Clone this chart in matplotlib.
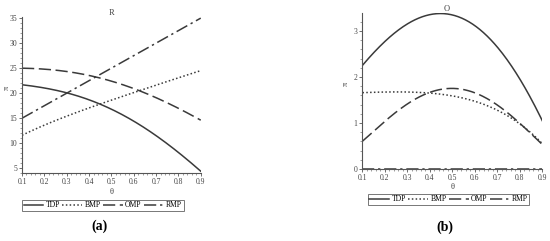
import matplotlib
matplotlib.use('Agg')
import matplotlib.pyplot as plt
import numpy as np
from matplotlib.ticker import MultipleLocator

plt.rcParams['font.family'] = ['Liberation Serif', 'DejaVu Serif']

# Data
theta = [0.1, 0.2, 0.3, 0.4, 0.5, 0.6, 0.7, 0.8, 0.9]

# panel (a): R
r_tdp = [21.7, 21.0, 20.1, 18.7, 16.8, 14.4, 11.5, 8.2, 4.4]
r_bmp = [11.6, 13.6, 15.4, 17.1, 18.6, 20.1, 21.6, 23.1, 24.5]
r_omp = [25.0, 24.8, 24.3, 23.6, 22.4, 20.9, 19.1, 17.0, 14.6]
r_rmp = [15.0, 17.5, 20.0, 22.5, 25.0, 27.5, 30.0, 32.5, 35.0]

# panel (b): O
o_tdp = [2.25, 2.78, 3.15, 3.35, 3.35, 3.12, 2.65, 1.95, 1.05]
o_bmp = [1.66, 1.67, 1.67, 1.66, 1.58, 1.47, 1.28, 0.98, 0.55]
o_omp = [0.60, 1.05, 1.40, 1.66, 1.77, 1.65, 1.38, 1.00, 0.53]
o_rmp = [0, 0, 0, 0, 0, 0, 0, 0, 0]

names = ['TDP', 'BMP', 'OMP', 'RMP']
styles = ['-', (0, (1, 1.5)), (0, (8, 3)), (0, (8, 2.5, 1.5, 2.5))]
col = '#3a3a3a'

# smooth curve through the read points
def smooth(y):
    xs = np.linspace(theta[0], theta[-1], 200)
    c = np.polyfit(theta, y, 4)
    return xs, np.polyval(c, xs)

fig = plt.figure(figsize=(5.5, 2.41), dpi=100)
ax1 = fig.add_axes([0.040, 0.281, 0.325, 0.648])
ax2 = fig.add_axes([0.659, 0.299, 0.327, 0.645])

def draw(ax, series, title, ylim, ystep, ylab_x, leg_anchor):
    lines = []
    for y, ls, nm in zip(series, styles, names):
        xs, ys = smooth(y)
        ln, = ax.plot(xs, ys, color=col, linestyle=ls, linewidth=1.1, label=nm)
        lines.append(ln)
    ax.set_xlim(0.1, 0.9)
    ax.set_ylim(*ylim)
    ax.xaxis.set_major_locator(MultipleLocator(0.1))
    ax.xaxis.set_minor_locator(MultipleLocator(0.02))
    ax.yaxis.set_major_locator(MultipleLocator(ystep))
    ax.yaxis.set_minor_locator(MultipleLocator(ystep / 5))
    ax.spines['top'].set_visible(False)
    ax.spines['right'].set_visible(False)
    for s in ['left', 'bottom']:
        ax.spines[s].set_color('#555555')
        ax.spines[s].set_linewidth(0.8)
    ax.tick_params(labelsize=5.5, length=2, width=0.6, pad=1.5, colors='#555555',
                   labelcolor='#444444')
    ax.tick_params(which='minor', length=1.2, width=0.5, colors='#777777')
    ax.set_xticklabels([f'{t:.1f}' for t in ax.get_xticks()])
    ax.set_title(title, fontsize=6, pad=1, color='#444444')
    ax.set_xlabel('θ', fontsize=6, labelpad=1, color='#444444')
    ax.set_ylabel('π', fontsize=6, rotation=90, color='#444444')
    ax.yaxis.set_label_coords(ylab_x, 0.55)
    leg = ax.legend(handles=lines, ncol=4, loc='upper left', bbox_to_anchor=leg_anchor,
                    fontsize=5.5, frameon=True, fancybox=False, handlelength=2.6,
                    handletextpad=0.3, columnspacing=0.3, borderpad=0.2,
                    borderaxespad=0)
    leg.get_frame().set_edgecolor('#555555')
    leg.get_frame().set_linewidth(0.7)
    return leg

draw(ax1, [r_tdp, r_bmp, r_omp, r_rmp], 'R', (4.0, 35.2), 5, -0.06, (0.0, -0.17))
draw(ax2, [o_tdp, o_bmp, o_omp, o_rmp], 'O', (0, 3.38), 1, -0.07, (0.03, -0.16))
ax2.title.set_position((0.47, 1.0))

fig.text(100 / 550, 1 - 226 / 241, '(a)', fontsize=10, fontweight='bold',
         ha='center', va='center')
fig.text(445 / 550, 1 - 227 / 241, '(b)', fontsize=10, fontweight='bold',
         ha='center', va='center')

plt.savefig('out.png', dpi=100)
